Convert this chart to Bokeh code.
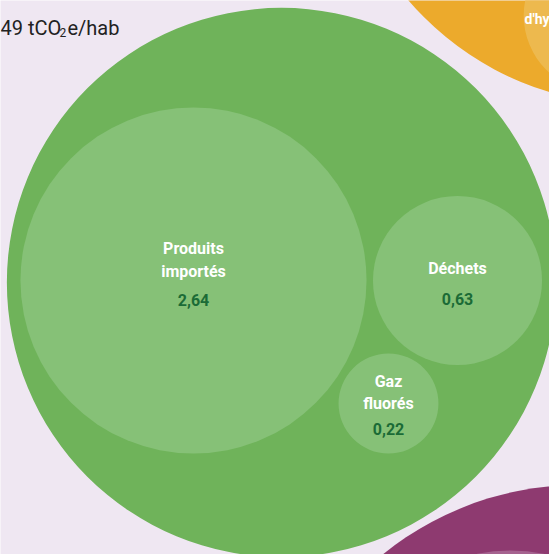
import numpy as np
from bokeh.plotting import figure
from bokeh.models import Range1d, ColumnDataSource
from bokeh.core.properties import value
from bokeh.embed import file_html
from bokeh.resources import INLINE

# ---------------- data ----------------
categories = ["Produits importés", "Déchets", "Gaz fluorés"]
values = [2.64, 0.63, 0.22]
group_value = 6.65          # green group (estimated from circle size)
title_parts = ["49 tCO", "2", "e/hab"]
other_groups = ["Hydrogène", "Autre"]
other_values = [7.9, 8.5]    # partially visible neighbouring groups (estimated)
other_inner_values = [0.52, 2.55]
other_inner_label = ["d'hydrogène"]

# ---------------- layout / style ----------------
W, H = 549, 554
K = 106.5  # px per sqrt(unit)
BG = "#EFE7F2"
GREEN = "#6FB35A"
LGREEN = "#86C177"
ORANGE = "#ECAA2C"
LORANGE = "#EDB94E"
PURPLE = "#8E3A70"
LPURPLE = "#A5628F"
DKGREEN = "#1B6B36"

def rad(v):
    return K * np.sqrt(v)

p = figure(width=W, height=H, output_backend="svg", toolbar_location=None,
           x_range=Range1d(0, W), y_range=Range1d(H, 0),
           min_border=0, background_fill_color=BG, border_fill_color=BG)
p.axis.visible = False
p.grid.visible = False
p.outline_line_color = None

# neighbouring groups
ox, oy = [635, 578], [-195, 795]
p.circle(x=ox, y=oy, radius=[rad(v) for v in other_values],
         fill_color=[ORANGE, PURPLE], line_color=None)
ix, iy = [600, 510], [15, 720]
p.circle(x=ix, y=iy, radius=[rad(v) for v in other_inner_values],
         fill_color=[LORANGE, LPURPLE], line_color=None)

# green group
p.circle(x=[281], y=[282], radius=[rad(group_value)], fill_color=GREEN, line_color=None)

cx = [193, 457, 388]
cy = [280, 280, 403]
src = ColumnDataSource(dict(x=cx, y=cy, r=[rad(v) for v in values]))
p.circle(x="x", y="y", radius="r", source=src, fill_color=LGREEN, line_color=None)

# labels
name_y = [[248, 271], [268], [381, 403]]
val_y = [299, 298, 428]
lx, ly, lt = [], [], []
for i, c in enumerate(categories):
    words = c.split(" ")
    for w, yy in zip(words if len(name_y[i]) > 1 else [c], name_y[i]):
        lx.append(cx[i]); ly.append(yy); lt.append(w)
p.text(x=lx, y=ly, text=lt, text_align="center", text_baseline="middle",
       text_color="white", text_font=value("Roboto"), text_font_style="bold",
       text_font_size="16px")
vt = [f"{v:.2f}".replace(".", ",") for v in values]
p.text(x=cx, y=val_y, text=vt, text_align="center", text_baseline="middle",
       text_color=DKGREEN, text_font=value("Roboto"), text_font_style="bold",
       text_font_size="16px")

# partial label in orange group
p.text(x=[524], y=[18], text=other_inner_label, text_align="left", text_baseline="middle",
       text_color="white", text_font=value("Roboto"), text_font_style="bold",
       text_font_size="14px")

# title
p.text(x=[0], y=[27], text=[title_parts[0]], text_align="left", text_baseline="alphabetic",
       text_color="#222222", text_font=value("Roboto"), text_font_size="20px")
p.text(x=[59], y=[32], text=[title_parts[1]], text_align="left", text_baseline="alphabetic",
       text_color="#222222", text_font=value("Roboto"), text_font_size="12px")
p.text(x=[67], y=[27], text=[title_parts[2]], text_align="left", text_baseline="alphabetic",
       text_color="#222222", text_font=value("Roboto"), text_font_size="20px")

open("out.html", "w").write(file_html(p, INLINE))
